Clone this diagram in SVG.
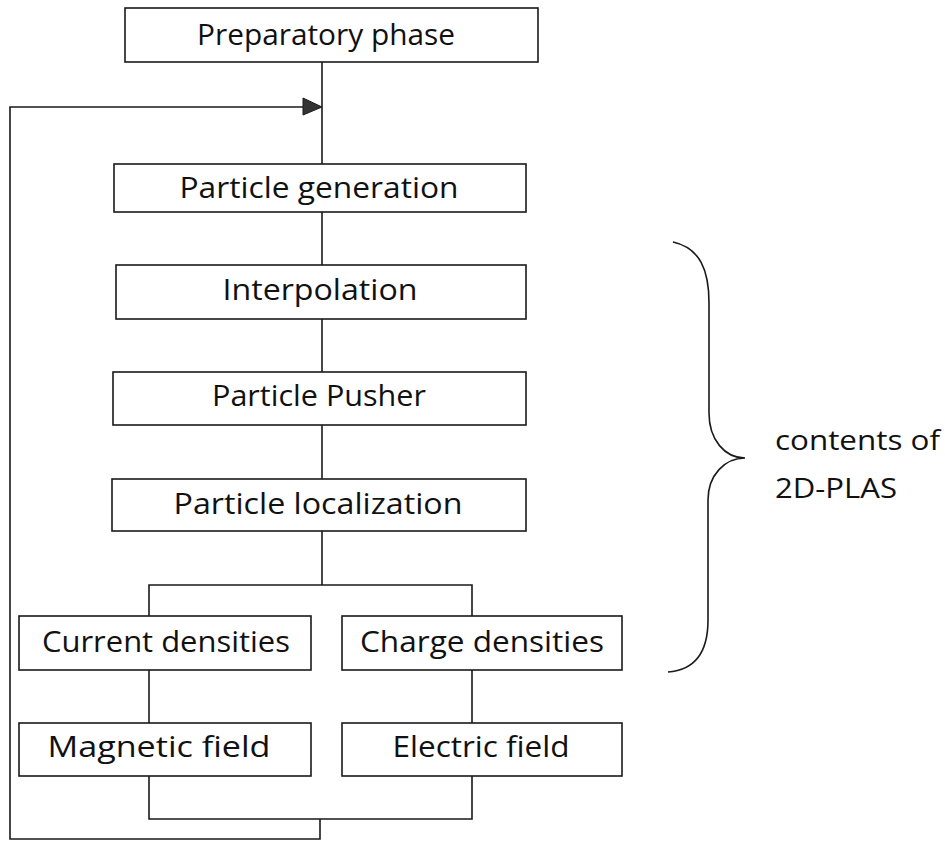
<svg xmlns="http://www.w3.org/2000/svg" width="945" height="841" viewBox="0 0 945 841">
<style>
.box{fill:#fff;stroke:#1a1a1a;stroke-width:1.6}
.lbl{font-family:"Open Sans","Noto Sans",sans-serif;font-size:30px;fill:#111;text-anchor:middle}
.side{font-family:"Open Sans","Noto Sans",sans-serif;font-size:28px;fill:#111}
.ln{fill:none;stroke:#1a1a1a;stroke-width:1.6}
</style>
<rect x="0" y="0" width="945" height="841" fill="#fff"/>
<g id="connectors">
<path class="ln" d="M322,62 V164"/>
<path class="ln" d="M322,212 V265"/>
<path class="ln" d="M322,319 V372"/>
<path class="ln" d="M322,425 V479"/>
<path class="ln" d="M322,531 V585"/>
<path class="ln" d="M149,616 V585 H472 V616"/>
<path class="ln" d="M149,670 V723"/>
<path class="ln" d="M472,670 V723"/>
<path class="ln" d="M149,776 V819 H472 V776"/>
<path class="ln" d="M320,819 V839 H10 V107 H304"/>
<polygon points="303,98 322,107 303,115" fill="#333" stroke="#1a1a1a" stroke-width="1"/>
</g>
<g id="n1"><rect class="box" x="125" y="8" width="413" height="54"/><text class="lbl" x="326" y="45" textLength="258" lengthAdjust="spacingAndGlyphs">Preparatory phase</text></g>
<g id="n2"><rect class="box" x="114" y="164" width="412" height="48"/><text class="lbl" x="319" y="198" textLength="279" lengthAdjust="spacingAndGlyphs">Particle generation</text></g>
<g id="n3"><rect class="box" x="116" y="265" width="410" height="54"/><text class="lbl" x="320" y="300" textLength="195" lengthAdjust="spacingAndGlyphs">Interpolation</text></g>
<g id="n4"><rect class="box" x="113" y="372" width="413" height="53"/><text class="lbl" x="319" y="406" textLength="214" lengthAdjust="spacingAndGlyphs">Particle Pusher</text></g>
<g id="n5"><rect class="box" x="112" y="479" width="414" height="52"/><text class="lbl" x="318" y="514" textLength="289" lengthAdjust="spacingAndGlyphs">Particle localization</text></g>
<g id="n6"><rect class="box" x="19" y="616" width="292" height="54"/><text class="lbl" x="166" y="652" textLength="248" lengthAdjust="spacingAndGlyphs">Current densities</text></g>
<g id="n7"><rect class="box" x="342" y="616" width="280" height="54"/><text class="lbl" x="482" y="652" textLength="244" lengthAdjust="spacingAndGlyphs">Charge densities</text></g>
<g id="n8"><rect class="box" x="19" y="723" width="292" height="53"/><text class="lbl" x="159" y="757" textLength="223" lengthAdjust="spacingAndGlyphs">Magnetic field</text></g>
<g id="n9"><rect class="box" x="342" y="723" width="280" height="53"/><text class="lbl" x="481" y="757" textLength="177" lengthAdjust="spacingAndGlyphs">Electric field</text></g>
<g id="brace">
<path class="ln" d="M673,242 C700,248 709,270 709,303 V413 C709,440 725,458 745,458 C725,458 708,475 708,500 V620 C708,652 695,670 668,672"/>
<text class="side" x="775" y="450" textLength="165" lengthAdjust="spacingAndGlyphs">contents of</text>
<text class="side" x="775" y="498" textLength="122" lengthAdjust="spacingAndGlyphs">2D-PLAS</text>
</g>
</svg>
